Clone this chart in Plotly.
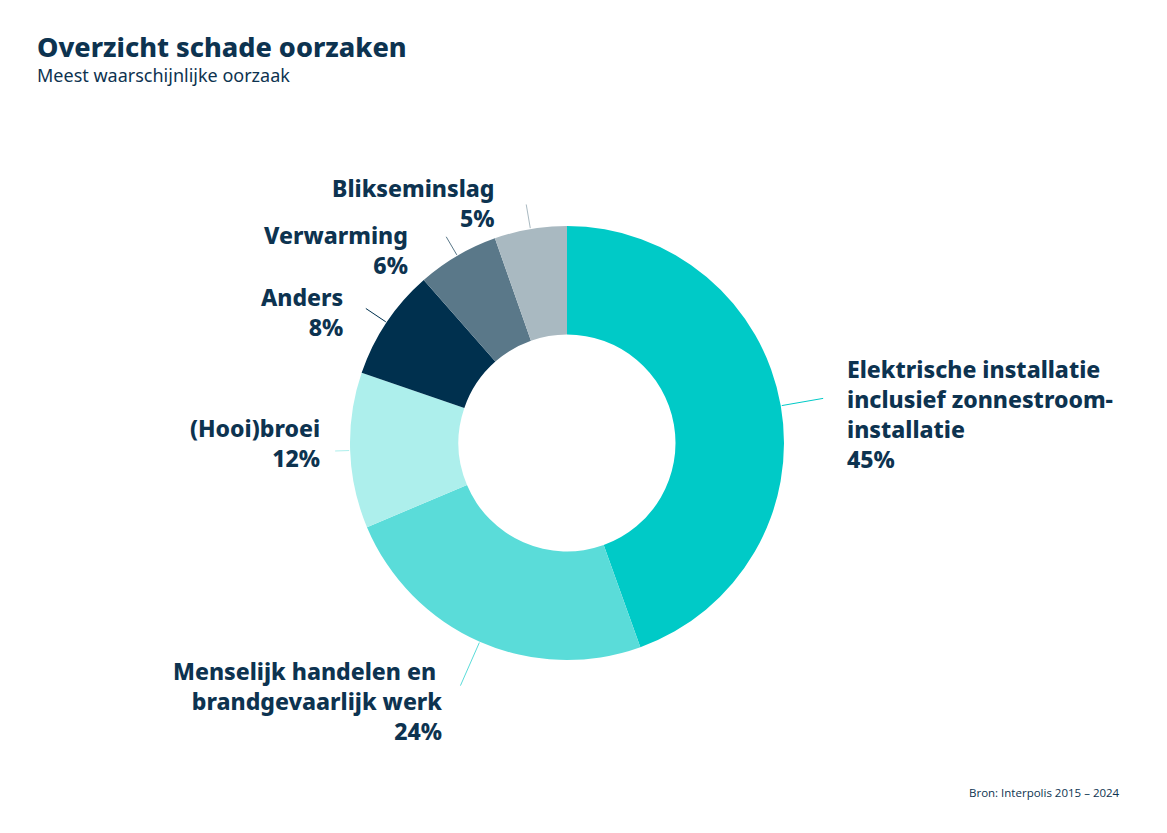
import math
import plotly.graph_objects as go

W, H = 1167, 833
OFF = 8  # page offset of the figure in the browser

categories = [
    "Elektrische installatie<br>inclusief zonnestroom-<br>installatie",
    "Menselijk handelen en <br>brandgevaarlijk werk",
    "(Hooi)broei",
    "Anders",
    "Verwarming",
    "Blikseminslag",
]
values = [44.6, 24.2, 11.6, 8.3, 6.1, 5.4]
colors = ["#00CAC7", "#5ADCD9", "#ADEFEC", "#00304E", "#5A7889", "#A9B9C1"]

# layout of the labels (pixel positions of the text blocks)
label_pos = [(845, 414, "left"), (444, 701, "right"), (322, 443, "right"),
             (345, 312, "right"), (410, 250, "right"), (496, 203, "right")]
leader_len = [43, 48, 15, 25, 22, 25]

cx, cy, R = 567, 443, 217
TXT = "#0D3350"
FONT = "Noto Sans"


def px(x):
    return (x - OFF) / W


def py(y):
    return 1 - (y - OFF) / H


fig = go.Figure(go.Pie(
    labels=[c.replace("<br>", " ") for c in categories],
    values=values,
    marker=dict(colors=colors, line=dict(width=0)),
    hole=0.5,
    sort=False,
    direction="clockwise",
    rotation=0,
    textinfo="none",
    hoverinfo="label+percent",
    domain=dict(x=[px(cx - R), px(cx + R)], y=[py(cy + R), py(cy - R)]),
    showlegend=False,
))

total = sum(values)
cum = 0
shapes, annotations = [], []
for i, v in enumerate(values):
    mid = (cum + v / 2) / total * 2 * math.pi
    cum += v
    sx, sy = cx + (R + 1) * math.sin(mid), cy - (R + 1) * math.cos(mid)
    ex, ey = cx + (R + leader_len[i]) * math.sin(mid), cy - (R + leader_len[i]) * math.cos(mid)
    shapes.append(dict(type="line", xref="paper", yref="paper",
                       x0=px(sx), y0=py(sy), x1=px(ex), y1=py(ey),
                       line=dict(color=colors[i], width=1)))
    lx, ly, side = label_pos[i]
    annotations.append(dict(
        xref="paper", yref="paper", x=px(lx), y=py(ly),
        xanchor=side, yanchor="middle", align=side, showarrow=False,
        text=f"{categories[i]}<br>{round(v)}%",
        font=dict(family=FONT, size=23, color=TXT, weight=800),
    ))

annotations += [
    dict(xref="paper", yref="paper", x=px(35), y=py(46), xanchor="left", yanchor="middle",
         showarrow=False, text="Overzicht schade oorzaken",
         font=dict(family=FONT, size=27, color=TXT, weight=800)),
    dict(xref="paper", yref="paper", x=px(35), y=py(75), xanchor="left", yanchor="middle",
         showarrow=False, text="Meest waarschijnlijke oorzaak",
         font=dict(family=FONT, size=18, color=TXT)),
    dict(xref="paper", yref="paper", x=px(1122), y=py(792), xanchor="right", yanchor="middle",
         showarrow=False, text="Bron: Interpolis 2015 – 2024",
         font=dict(family="Open Sans", size=11.5, color=TXT)),
]

fig.update_layout(
    width=W, height=H,
    margin=dict(l=0, r=0, t=0, b=0),
    paper_bgcolor="white", plot_bgcolor="white",
    shapes=shapes, annotations=annotations,
)

fig.write_html("out.html")
